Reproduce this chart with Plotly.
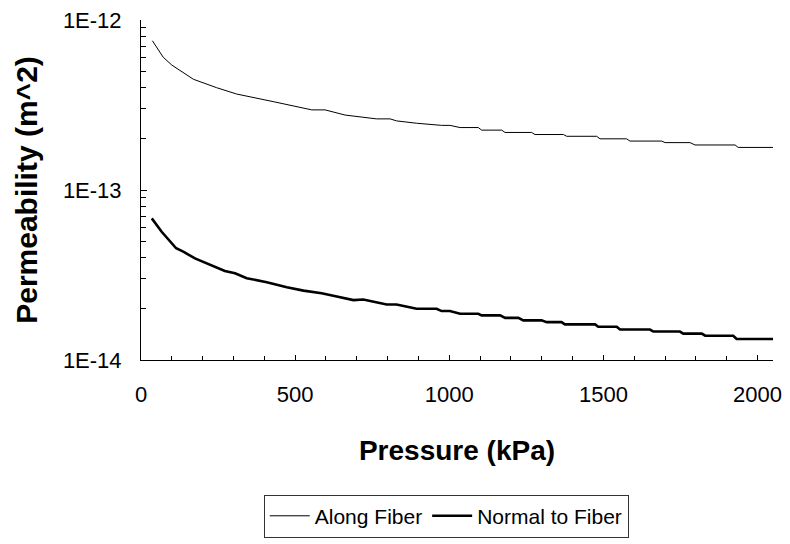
import plotly.graph_objects as go

# Along Fiber (thin line) -- pressure in kPa, permeability in m^2
along_p = [37, 72, 100, 170, 245, 310, 429, 554, 597, 662, 764, 808, 829, 894, 975,
           1002, 1035, 1094, 1105, 1170, 1181, 1267, 1278, 1370, 1381, 1478, 1489,
           1575, 1586, 1689, 1700, 1781, 1797, 1927, 1937, 2051]
along_k = [7.55e-13, 6.04e-13, 5.43e-13, 4.48e-13, 4.0e-13, 3.67e-13, 3.31e-13, 2.96e-13,
           2.96e-13, 2.76e-13, 2.62e-13, 2.62e-13, 2.55e-13, 2.47e-13, 2.40e-13,
           2.40e-13, 2.33e-13, 2.33e-13, 2.25e-13, 2.25e-13, 2.18e-13, 2.18e-13, 2.12e-13,
           2.12e-13, 2.07e-13, 2.07e-13, 2.0e-13, 2.0e-13, 1.94e-13, 1.94e-13, 1.90e-13,
           1.90e-13, 1.84e-13, 1.84e-13, 1.78e-13, 1.78e-13]

# Normal to Fiber (thick line)
normal_p = [35, 67, 114, 137, 175, 229, 272, 305, 343, 408, 473, 527, 586, 635, 689, 721,
            797, 829, 894, 959, 975, 1002, 1035, 1094, 1105, 1165, 1181, 1224, 1240, 1299,
            1316, 1364, 1375, 1473, 1483, 1543, 1554, 1651, 1662, 1748, 1759, 1819, 1830,
            1921, 1932, 2051]
normal_k = [6.81e-14, 5.68e-14, 4.54e-14, 4.34e-14, 3.96e-14, 3.62e-14, 3.34e-14, 3.24e-14,
            3.03e-14, 2.87e-14, 2.68e-14, 2.56e-14, 2.47e-14, 2.36e-14, 2.25e-14, 2.27e-14,
            2.12e-14, 2.12e-14, 2.0e-14, 2.0e-14, 1.94e-14, 1.94e-14, 1.87e-14, 1.87e-14,
            1.83e-14, 1.83e-14, 1.77e-14, 1.77e-14, 1.71e-14, 1.71e-14, 1.67e-14, 1.67e-14,
            1.62e-14, 1.62e-14, 1.57e-14, 1.57e-14, 1.51e-14, 1.51e-14, 1.47e-14, 1.47e-14,
            1.43e-14, 1.43e-14, 1.39e-14, 1.39e-14, 1.33e-14, 1.33e-14]

series_names = ["Along Fiber", "Normal to Fiber"]
y_tick_vals = [1e-14, 1e-13, 1e-12]
y_tick_text = ["1E-14", "1E-13", "1E-12"]
x_tick_vals = [0, 500, 1000, 1500, 2000]

y_minor = [m * d for d in (1e-14, 1e-13) for m in range(2, 10)]

fig = go.Figure()
fig.add_trace(go.Scatter(x=along_p, y=along_k, mode="lines", name=series_names[0],
                         line=dict(color="black", width=1)))
fig.add_trace(go.Scatter(x=normal_p, y=normal_k, mode="lines", name=series_names[1],
                         line=dict(color="black", width=2.6)))

font_family = "Liberation Sans, Arial, sans-serif"

fig.update_layout(
    width=790, height=544,
    margin=dict(l=141, r=17, t=20, b=184, autoexpand=False),
    paper_bgcolor="white", plot_bgcolor="white",
    font=dict(family=font_family, color="black", size=22),
    showlegend=True,
    legend=dict(orientation="h", x=0.483, xanchor="center", y=-0.396, yanchor="top",
                bordercolor="#333333", borderwidth=1, font=dict(size=21),
                itemwidth=40, bgcolor="white"),
)

fig.update_xaxes(
    range=[0, 2050], tickvals=x_tick_vals, ticks="inside", ticklen=5,
    tickcolor="black", showline=True, linecolor="black", linewidth=1,
    showgrid=False, zeroline=False, tickfont=dict(size=22), automargin=False,
    ticklabelstandoff=15,
    minor=dict(dtick=100, tick0=0, ticks="inside", ticklen=4, tickcolor="black", showgrid=False),
    title=dict(text="<b>Pressure (kPa)</b>", font=dict(size=28), standoff=33),
)
fig.update_yaxes(
    type="log", range=[-14, -12], tickvals=y_tick_vals, ticktext=y_tick_text,
    ticks="inside", ticklen=6, tickcolor="black",
    showline=True, linecolor="black", linewidth=1, showgrid=False, zeroline=False,
    tickfont=dict(size=22), ticklabelstandoff=14, automargin=False,
    minor=dict(tickvals=y_minor, ticks="inside", ticklen=5, tickcolor="black", showgrid=False),
    title=dict(text="<b>Permeability (m^2)</b>", font=dict(size=30), standoff=16),
)

fig.write_html("out.html")
